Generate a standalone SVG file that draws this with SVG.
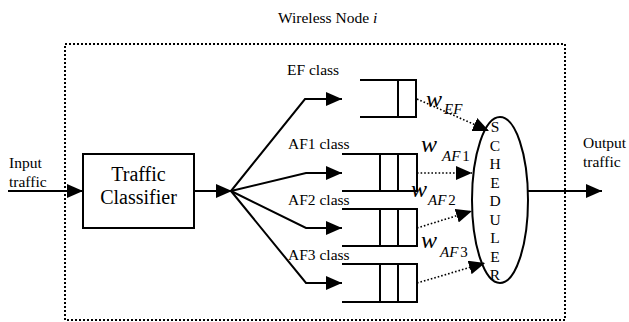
<svg xmlns="http://www.w3.org/2000/svg" width="629" height="322" viewBox="0 0 629 322" font-family="'Liberation Serif', 'DejaVu Serif', serif">
<style>
text{font-family:'Liberation Serif','DejaVu Serif',serif;fill:#000}
.lbl{font-size:15.5px}
.big{font-size:20px}
.w{font-size:24px;font-style:italic}
.sub{font-size:15px;font-style:italic}
.up{font-style:normal}
.sol{stroke:#000;stroke-width:2;fill:none}
.dot{stroke:#000;stroke-width:1.6;fill:none;stroke-dasharray:1.6 2}
.frame{stroke:#000;stroke-width:2;fill:none;stroke-dasharray:2 2}
.q{stroke:#000;stroke-width:2;fill:none}
</style>
<defs>
<marker id="ah" markerUnits="userSpaceOnUse" markerWidth="16" markerHeight="14" refX="16" refY="7" orient="auto">
<path d="M0,0 L16,7 L0,14 z" fill="#000"/>
</marker>
</defs>
<rect width="629" height="322" fill="#fff"/>
<g id="frame">
<rect class="frame" x="65" y="44" width="500" height="276"/>
<text class="lbl" x="278" y="23">Wireless Node <tspan font-style="italic">i</tspan></text>
</g>
<g id="input-label">
<text class="lbl" x="9" y="168">Input</text>
<text class="lbl" x="9" y="187">traffic</text>
</g>
<g id="classifier">
<rect class="sol" x="83" y="154" width="111" height="74"/>
<text class="big" x="138.5" y="181" text-anchor="middle">Traffic</text>
<text class="big" x="138.5" y="204" text-anchor="middle">Classifier</text>
</g>
<g id="q-ef">
<path class="q" d="M360,80 H416 V117 H360 M398,80 V117"/>
<text class="lbl" x="287" y="75">EF class</text>
</g>
<g id="q-af1">
<path class="q" d="M342,154 H417 V191 H342 M380,154 V191 M398,154 V191"/>
<text class="lbl" x="288" y="149">AF1 class</text>
</g>
<g id="q-af2">
<path class="q" d="M342,209 H417 V246 H342 M380,209 V246 M398,209 V246"/>
<text class="lbl" x="288" y="205">AF2 class</text>
</g>
<g id="q-af3">
<path class="q" d="M342,264 H417 V302 H342 M380,264 V302 M398,264 V302"/>
<text class="lbl" x="288" y="260">AF3 class</text>
</g>
<g id="scheduler">
<ellipse class="sol" cx="500" cy="200" rx="28" ry="83"/>
<g class="lbl" text-anchor="middle">
<text x="495" y="132">S</text>
<text x="495" y="150.5">C</text>
<text x="495" y="169">H</text>
<text x="495" y="187.5">E</text>
<text x="495" y="206">D</text>
<text x="495" y="224.5">U</text>
<text x="495" y="243">L</text>
<text x="495" y="261.5">E</text>
<text x="495" y="280">R</text>
</g>
</g>
<g id="output-label">
<text class="lbl" x="583" y="148">Output</text>
<text class="lbl" x="583" y="167">traffic</text>
</g>
<g id="connectors">
<line class="sol" x1="8" y1="191" x2="83" y2="191" marker-end="url(#ah)"/>
<line class="sol" x1="194" y1="191" x2="232" y2="191" marker-end="url(#ah)"/>
<polyline class="sol" points="231,191 305,99 342,99" marker-end="url(#ah)"/>
<polyline class="sol" points="231,191 306,173 342,173" marker-end="url(#ah)"/>
<polyline class="sol" points="231,191 306,228 342,228" marker-end="url(#ah)"/>
<polyline class="sol" points="231,191 306,283 342,283" marker-end="url(#ah)"/>
<line class="dot" x1="417" y1="99" x2="489" y2="131" marker-end="url(#ah)"/>
<line class="dot" x1="417" y1="173" x2="472" y2="173" marker-end="url(#ah)"/>
<line class="dot" x1="417" y1="228" x2="472" y2="211" marker-end="url(#ah)"/>
<line class="dot" x1="417" y1="283" x2="485" y2="263" marker-end="url(#ah)"/>
<line class="sol" x1="528" y1="191" x2="602" y2="191" marker-end="url(#ah)"/>
</g>
<g id="weights">
<text class="w" x="426" y="107">w</text><text class="sub" x="444" y="114">EF</text>
<text class="w" x="421" y="152">w</text><text class="sub" x="442" y="161">AF<tspan class="up" dx="2">1</tspan></text>
<text class="w" x="411" y="197">w</text><text class="sub" x="428" y="205">AF<tspan class="up" dx="2">2</tspan></text>
<text class="w" x="421" y="248">w</text><text class="sub" x="440" y="257">AF<tspan class="up" dx="2">3</tspan></text>
</g>
</svg>
